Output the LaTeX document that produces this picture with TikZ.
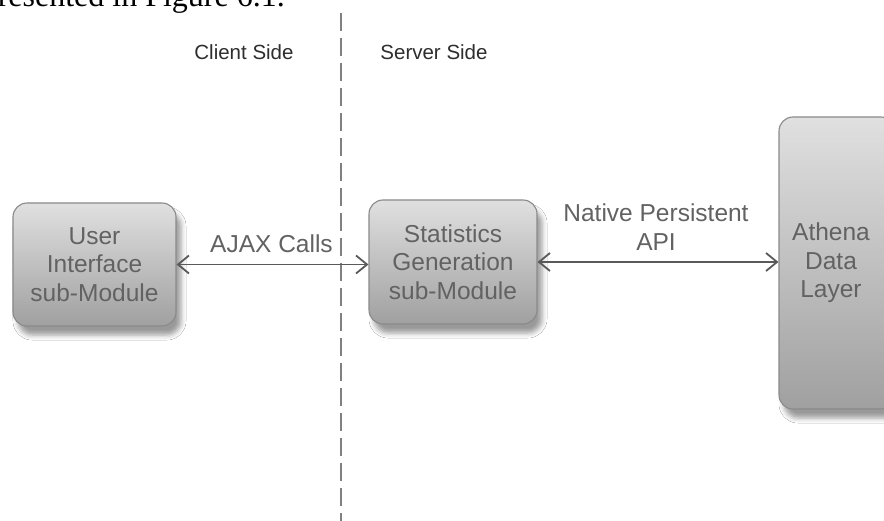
\documentclass[tikz,border=0pt]{standalone}
\usepackage{fontspec}
\setmainfont{Liberation Sans}
\newfontfamily\serifpart{Liberation Serif}
\usetikzlibrary{arrows.meta,shadows.blur}
\definecolor{boxtop}{HTML}{E0E0E0}
\definecolor{boxbot}{HTML}{A0A0A0}
\definecolor{boxline}{HTML}{8A8A8A}
\definecolor{textgray}{HTML}{626262}
\definecolor{labelgray}{HTML}{2E2E2E}
\definecolor{arrowgray}{HTML}{5A5A5A}
\definecolor{divgray}{HTML}{808080}
\begin{document}
\begin{tikzpicture}[x=1pt,y=-1pt,
  modbox/.style={draw=boxline, line width=1.1pt, rounded corners=14pt,
    top color=boxtop, bottom color=boxbot,
    blur shadow={shadow xshift=5pt,shadow yshift=-9pt,shadow blur radius=5pt,shadow opacity=40},
    inner sep=0pt},
  boxtext/.style={text=textgray, font=\fontsize{24.5}{28.5}\selectfont, align=center},
  sidelabel/.style={text=labelgray, font=\fontsize{20.5}{24}\selectfont, inner sep=0pt},
  link/.style={draw=arrowgray, line width=1.8pt,
    {Straight Barb[length=11pt,width=18pt]}-{Straight Barb[length=11pt,width=18pt]}},
  divider/.style={draw=divgray, line width=1.3pt, dash pattern=on 18pt off 7pt}]
\useasboundingbox (0,0) rectangle (884,521);
\fill[white] (0,0) rectangle (884,521);
\begin{scope}
\clip (0,0) rectangle (884,521);
% cut-off text line above the figure
\node[anchor=base east, font=\serifpart\fontsize{32}{36}\selectfont, inner sep=0pt] (intro) at (285,7) {presented in Figure 6.1.};
% divider
\coordinate (divtop) at (341,13);
\coordinate (divbot) at (341,521);
\draw[divider] (divtop) -- (divbot);
% side labels
\node[sidelabel] (client) at (244,52) {Client Side};
\node[sidelabel] (server) at (434,52) {Server Side};
% boxes
\node[modbox, boxtext, minimum width=163pt, minimum height=123pt] (ui) at (94.5,264.5) {User\\Interface\\sub-Module};
\node[modbox, boxtext, minimum width=168pt, minimum height=124pt] (stats) at (453,262) {Statistics\\Generation\\sub-Module};
\node[modbox, minimum width=116pt, minimum height=292pt] (athena) at (837,263) {};
\node[boxtext] (athenatext) at (831,263) {Athena\\Data\\Layer};
% connectors
\draw[link] (ui.east) -- (ui.east -| stats.west);
\draw[link] (stats.east) -- (stats.east -| athena.west);
% connector labels
\node[boxtext, inner sep=0pt] (ajax) at (271.5,244) {AJAX Calls};
\node[boxtext, inner sep=0pt] (napi) at (656,227) {Native Persistent\\API};
\end{scope}
\end{tikzpicture}
\end{document}
